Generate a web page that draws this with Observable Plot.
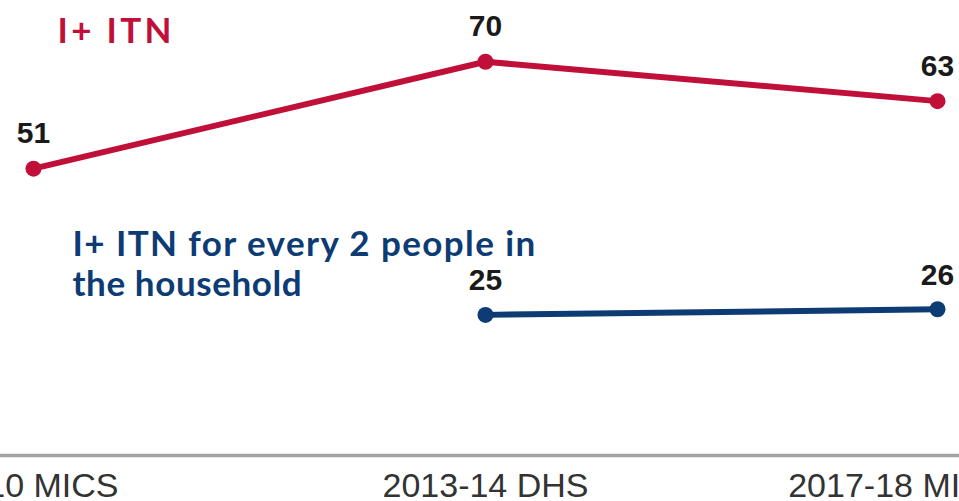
<!DOCTYPE html>
<html>
<head>
<meta charset="utf-8">
<script src="https://cdn.jsdelivr.net/npm/d3@7"></script>
<script src="https://cdn.jsdelivr.net/npm/@observablehq/plot@0.6"></script>
<style>
  html, body { margin: 0; padding: 0; background: #fff; overflow: hidden; }
  #chart svg { display: block; overflow: hidden; }
</style>
</head>
<body>
<div id="chart"></div>
<script>
const surveys = ["2010 MICS", "2013-14 DHS", "2017-18 MICS-Palu"];
const anyItn = [51, 70, 63];
const itnPer2Surveys = ["2013-14 DHS", "2017-18 MICS-Palu"];
const itnPer2 = [25, 26];
const seriesLabels = ["I+ ITN", "I+ ITN for every 2 people in", "the household"];
const seriesSpacing = ["3.3px", "1.4px", "0.6px"];

const red = "#c0103a";
const blue = "#0d3b73";

const redData = surveys.map((s, i) => ({survey: s, value: anyItn[i]}));
const blueData = itnPer2Surveys.map((s, i) => ({survey: s, value: itnPer2[i]}));

const labelFont = "Liberation Sans, Arial, sans-serif";
const seriesFont = "Lato, sans-serif";

const chart = Plot.plot({
  width: 959,
  height: 501,
  marginTop: 5,
  marginBottom: 46,
  marginLeft: 32,
  marginRight: 22,
  style: {background: "#fff", overflow: "hidden"},
  x: {type: "point", domain: surveys, padding: 0, axis: null},
  y: {domain: [0, 80], axis: null},
  marks: [
    Plot.ruleY([0], {stroke: "#a3a3a3", strokeWidth: 3.5, insetLeft: -40, insetRight: -40}),
    Plot.axisX({
      domain: surveys,
      label: null,
      tickSize: 0,
      tickPadding: 17,
      fontSize: 34,
      fontFamily: labelFont,
      fill: "#333",
      textOverflow: null
    }),
    Plot.line(redData, {x: "survey", y: "value", stroke: red, strokeWidth: 6}),
    Plot.dot(redData, {x: "survey", y: "value", fill: red, r: 8}),
    Plot.line(blueData, {x: "survey", y: "value", stroke: blue, strokeWidth: 6}),
    Plot.dot(blueData, {x: "survey", y: "value", fill: blue, r: 8}),
    Plot.text(redData, {x: "survey", y: "value", text: "value", dy: -35,
      fontSize: 30, fontWeight: "bold", fill: "#1a1a1a", fontFamily: labelFont}),
    Plot.text(blueData, {x: "survey", y: "value", text: "value", dy: -34,
      fontSize: 30, fontWeight: "bold", fill: "#1a1a1a", fontFamily: labelFont}),
    Plot.text([seriesLabels[0]], {frameAnchor: "top-left", text: d => d, dx: 25, dy: 13,
      textAnchor: "start", lineAnchor: "top", fontSize: 35, fontWeight: "bold", fill: red,
      fontFamily: seriesFont}),
    Plot.text([seriesLabels[1]], {frameAnchor: "top-left", text: d => d, dx: 40, dy: 226,
      textAnchor: "start", lineAnchor: "top", fontSize: 35, fontWeight: "bold", fill: blue,
      fontFamily: seriesFont}),
    Plot.text([seriesLabels[2]], {frameAnchor: "top-left", text: d => d, dx: 40, dy: 266,
      textAnchor: "start", lineAnchor: "top", fontSize: 35, fontWeight: "bold", fill: blue,
      fontFamily: seriesFont})
  ]
});
d3.select(chart).selectAll("text").each(function() {
  const i = seriesLabels.indexOf(this.textContent);
  if (i >= 0) this.style.letterSpacing = seriesSpacing[i];
});
document.getElementById("chart").appendChild(chart);
</script>
</body>
</html>
